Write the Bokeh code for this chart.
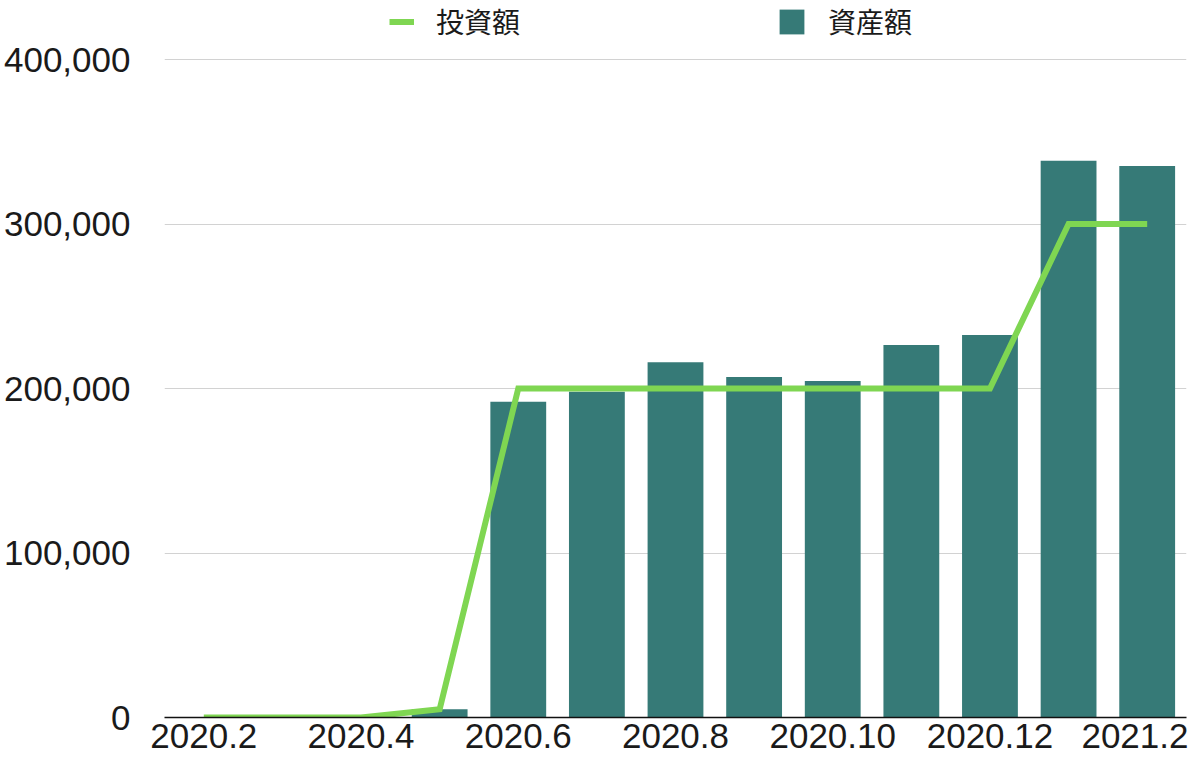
from bokeh.plotting import figure
from bokeh.models import Range1d, FixedTicker, NumeralTickFormatter, Legend, LegendItem
from bokeh.embed import file_html
from bokeh.resources import INLINE

months = ["2020.2", "2020.3", "2020.4", "2020.5", "2020.6", "2020.7", "2020.8",
          "2020.9", "2020.10", "2020.11", "2020.12", "2021.1", "2021.2"]
assets = [0, 0, 0, 5000, 192000, 198000, 216000, 207000, 204500, 226500, 232500, 338500, 335200]
invest = [0, 0, 0, 5000, 200000, 200000, 200000, 200000, 200000, 200000, 200000, 300000, 300000]
y_ticks = [0, 100000, 200000, 300000, 400000]

idx = list(range(len(months)))

FH = 717
y_end = 400000 * FH / (FH - 59)

p = figure(frame_width=1022, frame_height=FH, min_border_left=160, min_border_right=2,
           min_border_top=0, min_border_bottom=40, output_backend="svg", toolbar_location=None,
           x_range=Range1d(-0.5, len(months) - 0.5), y_range=Range1d(0, y_end))
p.outline_line_color = None
p.background_fill_color = "white"

bars = p.vbar(x=idx, top=assets, width=0.71, fill_color="#367a77", line_color=None)
line = p.line(x=idx, y=invest, line_color="#7fd652", line_width=6, line_join="miter")

TEXT = "#1a1a1a"
xa = p.xaxis[0]
xa.ticker = FixedTicker(ticks=idx[::2])
xa.major_label_overrides = {i: months[i] for i in idx[::2]}
xa.major_tick_line_color = None
xa.minor_tick_line_color = None
xa.axis_line_color = "#111111"
xa.axis_line_width = 1.5
xa.major_label_text_font = "Liberation Sans"
xa.major_label_text_font_size = "35px"
xa.major_label_text_color = TEXT
xa.major_label_standoff = 0

ya = p.yaxis[0]
ya.ticker = FixedTicker(ticks=y_ticks)
ya.formatter = NumeralTickFormatter(format="0,0")
ya.axis_line_color = None
ya.major_tick_line_color = None
ya.minor_tick_line_color = None
ya.major_label_text_font = "Liberation Sans"
ya.major_label_text_font_size = "35px"
ya.major_label_text_color = TEXT
ya.major_label_standoff = 28

p.xgrid.grid_line_color = None
p.ygrid.ticker = FixedTicker(ticks=y_ticks)
p.ygrid.grid_line_color = "#d2d2d2"
p.ygrid.grid_line_width = 1

common = dict(orientation="horizontal", label_text_font="Noto Sans CJK JP",
              label_text_font_size="28px", label_text_color=TEXT, padding=0, margin=0,
              background_fill_alpha=0, border_line_color=None)
legend1 = Legend(items=[LegendItem(label="投資額", renderers=[line])],
                 location=(225, FH - 41), glyph_width=25, glyph_height=31,
                 label_standoff=22, **common)
legend2 = Legend(items=[LegendItem(label="資産額", renderers=[bars])],
                 location=(612, FH - 41), glyph_width=31, glyph_height=31,
                 label_standoff=21, **common)
p.add_layout(legend1)
p.add_layout(legend2)

open("out.html", "w").write(file_html(p, INLINE))
